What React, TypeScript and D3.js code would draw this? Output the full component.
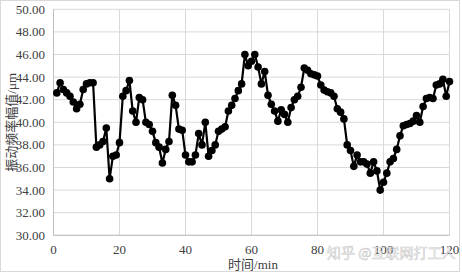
import React from "react";
import * as d3 from "d3";

const times: number[] = d3.range(1, 121);
const amplitudes: number[] = [
  42.6, 43.5, 42.9, 42.6, 42.3, 41.8, 41.2, 41.6, 42.9, 43.4,
  43.5, 43.5, 37.8, 38.0, 38.3, 39.5, 35.0, 37.0, 37.1, 38.2,
  42.3, 42.8, 43.7, 41.0, 40.0, 42.2, 42.0, 40.0, 39.8, 39.2,
  38.2, 37.8, 36.4, 37.6, 38.3, 42.4, 41.5, 39.4, 39.3, 37.1,
  36.5, 36.5, 37.1, 39.0, 38.0, 40.0, 37.0, 37.5, 38.0, 39.2,
  39.4, 39.6, 41.0, 41.5, 42.1, 42.8, 43.4, 46.0, 45.0, 45.4,
  46.0, 44.9, 43.4, 44.5, 42.4, 41.6, 41.0, 40.1, 41.1, 40.7,
  40.0, 41.3, 42.0, 42.3, 43.1, 44.8, 44.6, 44.3, 44.2, 44.1,
  43.3, 42.85, 42.7, 42.6, 42.3, 41.2, 40.9, 40.3, 38.0, 37.5,
  36.1, 37.1, 36.5, 36.5, 36.3, 35.5, 36.5, 35.7, 34.0, 34.7,
  35.5, 36.5, 36.8, 37.6, 38.8, 39.7, 39.8, 39.9, 40.1, 40.6,
  40.0, 41.4, 42.1, 42.2, 42.1, 43.3, 43.4, 43.8, 42.3, 43.6,
];
const xTicks: number[] = [0, 20, 40, 60, 80, 100, 120];
const yTicks: number[] = [30, 32, 34, 36, 38, 40, 42, 44, 46, 48, 50];
const yTitle = "振动频率幅值/μm";
const xTitle = "时间/min";
const watermark = "知乎 @互联网打工人";

const W = 462;
const H = 273;
const FONT = "'Liberation Serif', 'Times New Roman', 'Noto Sans CJK SC', serif";

export default function App() {
  const x = d3.scaleLinear().domain([0, 120]).range([53.5, 449.5]);
  const y = d3.scaleLinear().domain([30, 50]).range([235.3, 9.3]);
  const data = times.map((t, i) => ({ t, v: amplitudes[i] }));
  const line = d3
    .line<{ t: number; v: number }>()
    .x((d) => x(d.t))
    .y((d) => y(d.v));

  return (
    <svg
      width={W}
      height={H}
      style={{ position: "absolute", left: 0, top: 0, background: "#fff" }}
      fontFamily={FONT}
    >
      <rect x={0.5} y={0.5} width={459} height={271} fill="#fff" stroke="#d9d9d9" />
      {yTicks.map((v) => (
        <line
          key={"gy" + v}
          x1={x(0)}
          x2={x(120)}
          y1={y(v)}
          y2={y(v)}
          stroke="#d9d9d9"
          strokeWidth={1}
        />
      ))}
      {xTicks.map((t) => (
        <line
          key={"gx" + t}
          x1={x(t)}
          x2={x(t)}
          y1={y(30)}
          y2={y(50)}
          stroke="#d9d9d9"
          strokeWidth={1}
        />
      ))}
      <line x1={x(0)} x2={x(0)} y1={y(30)} y2={y(50)} stroke="#bfbfbf" />
      <line x1={x(0)} x2={x(120)} y1={y(30)} y2={y(30)} stroke="#bfbfbf" />
      {yTicks.map((v) => (
        <text
          key={"ty" + v}
          x={45}
          y={y(v)}
          dy="0.35em"
          textAnchor="end"
          fontSize={13}
          fill="#404040"
        >
          {v.toFixed(2)}
        </text>
      ))}
      {xTicks.map((t) => (
        <text
          key={"tx" + t}
          x={x(t)}
          y={254}
          textAnchor="middle"
          fontSize={13}
          fill="#404040"
        >
          {t}
        </text>
      ))}
      <path d={line(data) || ""} fill="none" stroke="#000" strokeWidth={2.2} />
      {data.map((d) => (
        <circle key={"p" + d.t} cx={x(d.t)} cy={y(d.v)} r={3.8} fill="#000" />
      ))}
      <text
        transform={`translate(16, ${(y(30) + y(50)) / 2}) rotate(-90)`}
        textAnchor="middle"
        fontSize={13}
        fill="#404040"
      >
        {yTitle}
      </text>
      <text x={253} y={268.5} textAnchor="middle" fontSize={13} fill="#404040">
        {xTitle}
      </text>
      <text
        x={327}
        y={258}
        fontSize={14}
        fontFamily="'Noto Sans CJK SC', sans-serif"
        fill="#ffffff"
        fillOpacity={0.75}
        stroke="#b0b0b0"
        strokeWidth={0.6}
        strokeOpacity={0.7}
      >
        {watermark}
      </text>
    </svg>
  );
}
